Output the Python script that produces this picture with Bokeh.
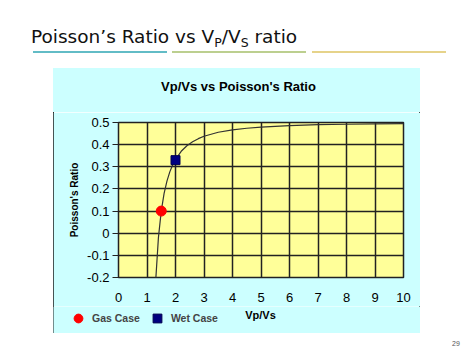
from bokeh.plotting import figure
from bokeh.models import Range1d, FixedTicker, Legend, LegendItem, Div, Spacer, Label
from bokeh.layouts import column, row
from bokeh.embed import file_html
from bokeh.resources import INLINE

# ---------------- data ----------------
vpvs_curve = [1.3, 1.4, 1.5, 1.6, 1.7, 1.8, 1.9, 2.0, 2.2, 2.4, 2.6, 2.8, 3.0,
              3.5, 4.0, 4.5, 5.0, 6.0, 7.0, 8.0, 9.0, 10.0]
poisson_curve = [-0.225, -0.021, 0.100, 0.180, 0.235, 0.277, 0.308, 0.333, 0.370,
                 0.395, 0.413, 0.427, 0.438, 0.456, 0.467, 0.474, 0.479, 0.486,
                 0.490, 0.492, 0.494, 0.495]
gas_vpvs = [1.5]
gas_poisson = [0.1]
wet_vpvs = [2.0]
wet_poisson = [0.33]
x_ticks = [0, 1, 2, 3, 4, 5, 6, 7, 8, 9, 10]
x_tick_labels = ["0", "1", "2", "3", "4", "5", "6", "7", "8", "9", "10"]
y_ticks = [-0.2, -0.1, 0, 0.1, 0.2, 0.3, 0.4, 0.5]
y_tick_labels = ["-0.2", "-0.1", "0", "0.1", "0.2", "0.3", "0.4", "0.5"]
series_names = ["Gas Case", "Wet Case"]
chart_title = "Vp/Vs vs Poisson's Ratio"
x_title = "Vp/Vs"
y_title = "Poisson's Ratio"
page_number = "29"

CYAN = "#ccffff"
YELLOW = "#ffff99"
GRID = "#222222"
GAS_COLOR = "#ff0000"
WET_COLOR = "#000080"
NAN = float("nan")

# ---------------- slide title ----------------
title_html = """
<div style="position:relative;width:474px;height:68px;margin:0;padding:0;">
  <div style="position:absolute;left:31px;top:27.8px;white-space:nowrap;
              font-family:'DejaVu Sans';font-size:18.5px;line-height:18.5px;color:#111111;">
    Poisson\u2019s Ratio vs V<span style="font-size:12.5px;position:relative;top:4px;">P</span>/V<span style="font-size:12.5px;position:relative;top:4px;">S</span> ratio
  </div>
  <div style="position:absolute;left:33px;top:51px;width:134px;height:2px;background:#62bcc6;"></div>
  <div style="position:absolute;left:172px;top:51px;width:134px;height:2px;background:#bccf8f;"></div>
  <div style="position:absolute;left:312px;top:51px;width:134px;height:2px;background:#e6d38a;"></div>
</div>
"""
title_div = Div(text=title_html, width=474, height=68, margin=0)

CW = 367

# ---------------- chart title (top band of the chart box) ----------------
ct_html = """
<div style="position:relative;width:%dpx;height:44px;background:%s;margin:0;padding:0;">
  <div style="position:absolute;left:2px;top:10.5px;width:%dpx;text-align:center;white-space:nowrap;
              font-family:'Liberation Sans';font-weight:bold;font-size:13px;line-height:15px;color:#000000;">%s</div>
</div>
""" % (CW, CYAN, CW, chart_title)
chart_title_div = Div(text=ct_html, width=CW, height=44, margin=0)

# ---------------- main chart ----------------
PH = 194
p = figure(width=CW, height=PH, output_backend="svg", toolbar_location=None,
           x_range=Range1d(0, 10), y_range=Range1d(-0.2, 0.5),
           min_border_left=65, min_border_right=17,
           min_border_top=10, min_border_bottom=29, margin=0)
p.frame_align = False
p.border_fill_color = CYAN
p.background_fill_color = YELLOW
p.outline_line_color = GRID
p.outline_line_width = 1.5

p.xgrid.ticker = FixedTicker(ticks=x_ticks)
p.ygrid.ticker = FixedTicker(ticks=y_ticks)
for g in (p.xgrid, p.ygrid):
    g.grid_line_color = GRID
    g.grid_line_width = 1.5

p.xaxis.ticker = FixedTicker(ticks=x_ticks)
p.xaxis.major_label_overrides = {t: l for t, l in zip(x_ticks, x_tick_labels)}
p.yaxis.ticker = FixedTicker(ticks=y_ticks)
p.yaxis.major_label_overrides = {t: l for t, l in zip(y_ticks, y_tick_labels)}
for ax in (p.xaxis[0], p.yaxis[0]):
    ax.axis_line_color = None
    ax.minor_tick_line_color = None
    ax.major_label_text_font = "Liberation Sans"
    ax.major_label_text_font_size = "13px"
    ax.major_label_text_color = "black"
    ax.axis_label_text_font = "Liberation Sans"
    ax.axis_label_text_font_style = "bold"
    ax.axis_label_text_color = "black"
p.xaxis.major_tick_line_color = None
p.xaxis.major_label_standoff = 9
p.yaxis.major_tick_in = 0
p.yaxis.major_tick_out = 6
p.yaxis.major_tick_line_color = GRID
p.yaxis.major_label_standoff = 3
p.yaxis.axis_label = y_title
p.yaxis.axis_label_text_font_size = "10px"
p.yaxis.axis_label_standoff = 4

p.line(vpvs_curve, poisson_curve, line_color="#333333", line_width=1.2)
p.scatter(gas_vpvs, gas_poisson, marker="circle", size=10,
          fill_color=GAS_COLOR, line_color=GAS_COLOR)
p.scatter(wet_vpvs, wet_poisson, marker="square", size=9,
          fill_color=WET_COLOR, line_color="#000050")

# ---------------- legend strip (bottom band of the chart box) ----------------
SH = 27
s = figure(width=CW, height=SH, output_backend="svg", toolbar_location=None,
           x_range=Range1d(0, CW), y_range=Range1d(SH, 0),
           x_axis_type=None, y_axis_type=None,
           min_border=0, min_border_left=0, min_border_right=0,
           min_border_top=0, min_border_bottom=0, margin=0)
s.frame_align = False
s.border_fill_color = CYAN
s.background_fill_color = CYAN
s.outline_line_color = None
s.grid.visible = False
# legend keys only (no visible points in this strip)
gas_key = s.scatter([NAN], [NAN], marker="circle", size=10,
                    fill_color=GAS_COLOR, line_color=GAS_COLOR)
wet_key = s.scatter([NAN], [NAN], marker="square", size=9,
                    fill_color=WET_COLOR, line_color="#000050")
legend = Legend(items=[LegendItem(label=series_names[0], renderers=[gas_key]),
                       LegendItem(label=series_names[1], renderers=[wet_key])],
                orientation="horizontal", location=(14, 4),
                background_fill_alpha=0, border_line_color=None,
                label_text_font="Liberation Sans", label_text_font_style="bold",
                label_text_font_size="10.5px", glyph_width=22, glyph_height=22,
                label_height=12, label_standoff=3, spacing=6, padding=0, margin=0)
s.add_layout(legend)
s.add_layout(Label(x=207, y=8, text=x_title, text_font="Liberation Sans",
                   text_font_style="bold", text_font_size="11px",
                   text_align="center", text_baseline="middle", text_color="black"))

chart_box = column(chart_title_div, p, s, spacing=0, margin=0,
                   styles={"outline": "1px solid #1a1a1a", "outline-offset": "-1px"})

footer_html = """
<div style="position:relative;width:474px;height:22px;">
  <div style="position:absolute;left:452px;top:7px;font-family:'Liberation Sans';
              font-size:7px;line-height:8px;color:#555555;">%s</div>
</div>
""" % page_number
footer_div = Div(text=footer_html, width=474, height=22, margin=0)

layout = column(title_div,
                row(Spacer(width=53, height=44 + PH + SH, margin=0), chart_box,
                    spacing=0, margin=0),
                footer_div, spacing=0, margin=0)

open("out.html", "w").write(file_html(layout, INLINE))
